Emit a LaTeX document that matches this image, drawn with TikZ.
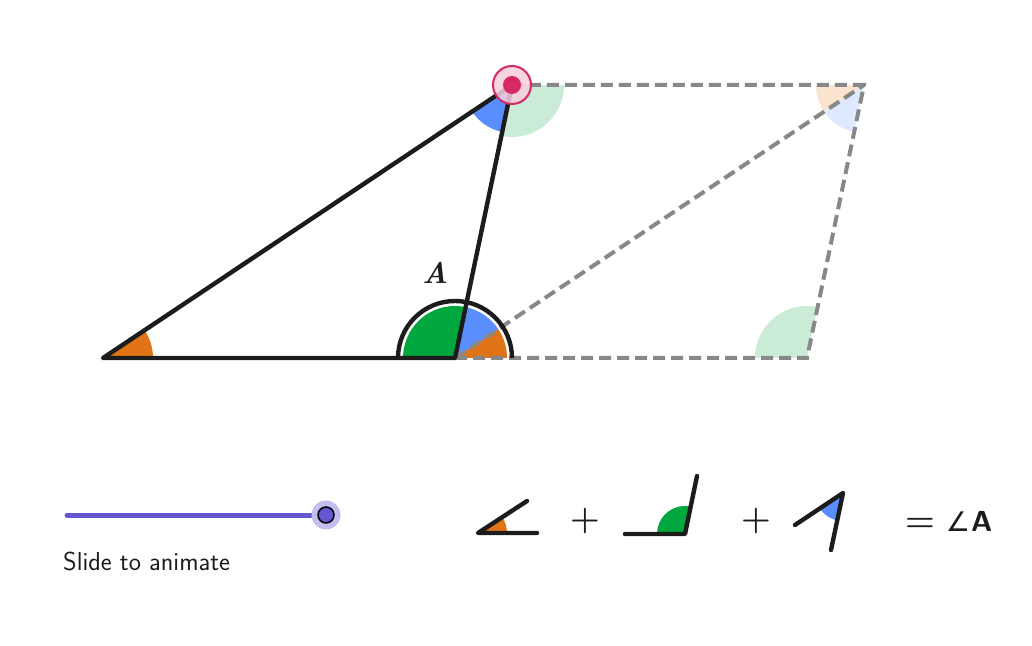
\documentclass[tikz,border=0pt]{standalone}
\usepackage{fontspec}
\newfontfamily\djv{DejaVu Sans}
\definecolor{gOrange}{RGB}{224,115,20}
\definecolor{gGreen}{RGB}{0,166,62}
\definecolor{gBlue}{RGB}{90,142,255}
\definecolor{lGreen}{RGB}{202,236,214}
\definecolor{lOrange}{RGB}{251,228,206}
\definecolor{lBlue}{RGB}{222,232,255}
\definecolor{gLine}{RGB}{28,28,28}
\definecolor{gDash}{RGB}{136,136,136}
\definecolor{gRed}{RGB}{214,40,100}
\definecolor{gPink}{RGB}{246,206,222}
\definecolor{gSlider}{RGB}{101,87,210}
\definecolor{gHalo}{RGB}{196,190,238}
\newcommand\sectr[5]{\fill[#1] (#2) -- ++(#3:#5) arc[start angle=#3, end angle=#4, radius=#5] -- cycle;}
\tikzset{
  edge/.style={draw=gLine, line width=4.4pt, line cap=round, line join=round},
  dashline/.style={draw=gDash, line width=4pt, dash pattern=on 12pt off 6pt},
  txt/.style={inner sep=0pt, text=gLine}
}
\begin{document}
\begin{tikzpicture}[x=1pt,y=1pt]
\useasboundingbox (0,0) rectangle (1032,645);
% main figure points (y = 645 - pixel y)
\coordinate (B) at (103,287);
\coordinate (P) at (455,287);
\coordinate (C) at (512,560);
\coordinate (Q) at (807,287);
\coordinate (R) at (864,560);
% faint angles
\sectr{lGreen}{C}{258.21}{360}{52}
\sectr{lOrange}{R}{180}{213.69}{48}
\sectr{lBlue}{R}{213.69}{258.21}{48}
\sectr{lGreen}{Q}{78.21}{180}{52}
% coloured angles
\sectr{gOrange}{B}{0}{33.69}{50}
\sectr{gBlue}{C}{213.69}{258.21}{48}
\sectr{gOrange}{P}{0}{33.69}{52}
\sectr{gBlue}{P}{33.69}{78.21}{52}
\sectr{gGreen}{P}{78.21}{180}{52}
% dashed parallelogram
\draw[dashline] (P) -- (Q) -- (R) -- (C);
\draw[dashline] (P) -- (R);
% arc for angle A
\draw[edge, line cap=butt] ([shift={(0:57)}]P) arc[start angle=0, end angle=180, radius=57];
% triangle
\draw[edge] (B) -- (P) -- (C) -- cycle;
\node[txt] (lblA) at (435,372) {\fontsize{30}{34}\selectfont\bfseries\itshape A};
% moving point
\fill[gPink, opacity=0.85] (C) circle[radius=19];
\draw[gRed, line width=2pt] (C) circle[radius=19];
\fill[gRed] (C) circle[radius=9];
% slider
\coordinate (S0) at (67,130);
\coordinate (S1) at (326,130);
\draw[gSlider, line width=5pt, line cap=round] (S0) -- (S1);
\fill[gHalo] (S1) circle[radius=14.5];
\fill[gSlider] (S1) circle[radius=8];
\draw[black, line width=1.5pt] (S1) circle[radius=8];
\node[txt, anchor=base west] (slbl) at (63,75) {\fontsize{26}{30}\selectfont\sffamily Slide to animate};
% formula: angle 1
\coordinate (F1) at (478,112);
\coordinate (F1a) at (537,112);
\coordinate (F1b) at (527,144);
\sectr{gOrange}{F1}{0}{33.69}{29}
\draw[edge] (F1a) -- (F1) -- (F1b);
\node[txt] (plus1) at (585,124) {\fontsize{34}{40}\selectfont\bfseries +};
% angle 2
\coordinate (F2) at (685,111);
\coordinate (F2a) at (625,111);
\coordinate (F2b) at (697,169);
\sectr{gGreen}{F2}{78.21}{180}{28}
\draw[edge] (F2a) -- (F2) -- (F2b);
\node[txt] (plus2) at (756,124) {\fontsize{34}{40}\selectfont\bfseries +};
% angle 3
\coordinate (F3) at (843,152);
\coordinate (F3a) at (795,120);
\coordinate (F3b) at (831,95);
\sectr{gBlue}{F3}{213.69}{258.21}{28}
\draw[edge] (F3a) -- (F3) -- (F3b);
\node[txt, anchor=west] (eqA) at (905,124) {\fontsize{34}{36}\selectfont\bfseries =\hspace{11pt}{\mdseries\djv\fontsize{27}{30}\selectfont ∠}\hspace{1pt}{\fontsize{29}{36}\selectfont\sffamily A}};
\end{tikzpicture}
\end{document}
